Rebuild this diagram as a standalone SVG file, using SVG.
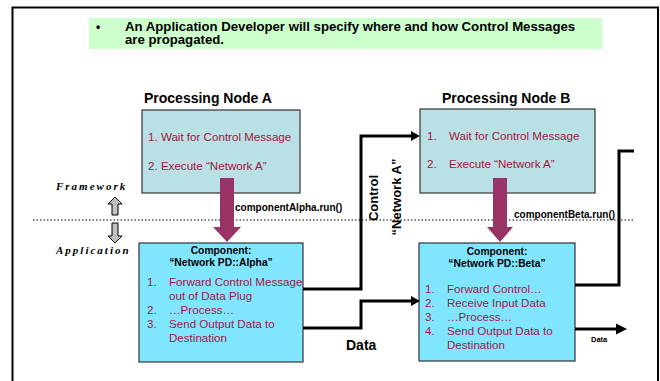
<svg xmlns="http://www.w3.org/2000/svg" width="660" height="381" viewBox="0 0 660 381">
<defs>
<style>
.t{font-family:"Liberation Sans",Arial,sans-serif;}
.b{font-weight:bold;}
.red{fill:#A0173F;font-size:11.6px;}
.title{font-size:14px;font-weight:bold;fill:#000;}
.comp{font-size:10.3px;font-weight:bold;fill:#000;}
.fw{font-family:"Liberation Serif","Times New Roman",serif;font-weight:bold;font-style:italic;font-size:11px;letter-spacing:2px;}
.conn{fill:none;stroke:#000;stroke-width:3;}
.pnode{fill:#B9E1E5;stroke:#333;stroke-width:1.2;}
.cnode{fill:#80E6FF;stroke:#333;stroke-width:1.2;}
.mag{fill:#993366;}
.gray{fill:#C0C0C0;stroke:#000;stroke-width:1;}
</style>
</defs>
<rect width="660" height="381" fill="#fff"/>
<path d="M12.5,390 L12.5,7.5 L658,7.5 L658,390" fill="none" stroke="#000" stroke-width="2"/>
<g id="header">
<rect x="89" y="18" width="513" height="31" fill="#CCFFCC"/>
<text class="t b" x="96" y="31" font-size="12">•</text>
<text class="t b" x="125" y="30.5" font-size="13.2">An Application Developer will specify where and how Control Messages</text>
<text class="t b" x="125" y="44" font-size="13.2">are propagated.</text>
</g>
<g id="layers">
<line x1="33" y1="220" x2="634" y2="220" stroke="#000" stroke-width="1.2" stroke-dasharray="1.5,2"/>
<text class="fw" x="56" y="190">Framework</text>
<text class="fw" x="56" y="254">Application</text>
<path class="gray" d="M115,197 L122,204 L118,204 L118,215 L112,215 L112,204 L108,204 Z"/>
<path class="gray" d="M112,223 L118,223 L118,236 L122,236 L115,243 L108,236 L112,236 Z"/>
</g>
<g id="nodeA">
<text class="t title" x="144" y="103">Processing Node A</text>
<rect class="pnode" x="142" y="110" width="158" height="83"/>
<text class="t red" x="148" y="141">1. Wait for Control Message</text>
<text class="t red" x="148" y="170">2. Execute “Network A”</text>
</g>
<g id="nodeB">
<text class="t title" x="442" y="103">Processing Node B</text>
<rect class="pnode" x="420" y="109" width="175" height="84"/>
<text class="t red" x="427" y="140">1.</text>
<text class="t red" x="449" y="140">Wait for Control Message</text>
<text class="t red" x="427" y="168">2.</text>
<text class="t red" x="449" y="168">Execute “Network A”</text>
</g>
<g id="alpha">
<rect class="cnode" x="139" y="243" width="164" height="119"/>
<text class="t comp" x="221" y="254" text-anchor="middle">Component:</text>
<text class="t comp" x="221" y="265.5" text-anchor="middle">“Network PD::Alpha”</text>
<text class="t red" x="147" y="286">1.</text>
<text class="t red" x="169" y="286">Forward Control Message</text>
<text class="t red" x="169" y="300">out of Data Plug</text>
<text class="t red" x="147" y="314">2.</text>
<text class="t red" x="169" y="314">…Process…</text>
<text class="t red" x="147" y="328">3.</text>
<text class="t red" x="169" y="328">Send Output Data to</text>
<text class="t red" x="169" y="342">Destination</text>
</g>
<g id="beta">
<rect class="cnode" x="419" y="243" width="156" height="118"/>
<text class="t comp" x="497" y="255" text-anchor="middle">Component:</text>
<text class="t comp" x="497" y="266.5" text-anchor="middle">“Network PD::Beta”</text>
<text class="t red" x="425" y="293">1.</text>
<text class="t red" x="447" y="293">Forward Control…</text>
<text class="t red" x="425" y="307">2.</text>
<text class="t red" x="447" y="307">Receive Input Data</text>
<text class="t red" x="425" y="321">3.</text>
<text class="t red" x="447" y="321">…Process…</text>
<text class="t red" x="425" y="335">4.</text>
<text class="t red" x="447" y="335">Send Output Data to</text>
<text class="t red" x="447" y="349">Destination</text>
</g>
<g id="connectors">
<path class="mag" d="M220,178 L234,178 L234,227 L241,227 L227,242 L213,227 L220,227 Z"/>
<path class="mag" d="M493,178 L507,178 L507,227 L513,227 L500,242 L487,227 L493,227 Z"/>
<text class="t b" x="235" y="211" font-size="10">componentAlpha.run()</text>
<text class="t b" x="514" y="218" font-size="10">componentBeta.run()</text>
<path class="conn" d="M303,289 L361,289 L361,136 L411,136"/>
<path class="conn" d="M303,328 L361,328 L361,301 L411,301"/>
<path d="M411,131 L420,136 L411,141 Z" fill="#000"/>
<path d="M411,296 L420,301 L411,306 Z" fill="#000"/>
<text class="t b" font-size="13" transform="translate(378,198) rotate(-90)" text-anchor="middle">Control</text>
<text class="t b" font-size="13" transform="translate(401,197) rotate(-90)" text-anchor="middle">“Network A”</text>
<text class="t b" x="346" y="350" font-size="14">Data</text>
<path class="conn" d="M575,285 L619,285 L619,151 L634,151"/>
<path class="conn" d="M575,329 L617,329"/>
<path d="M616,323.5 L627,329 L616,334.5 Z" fill="#000"/>
<text class="t b" x="591" y="342" font-size="7.5">Data</text>
</g>
</svg>
